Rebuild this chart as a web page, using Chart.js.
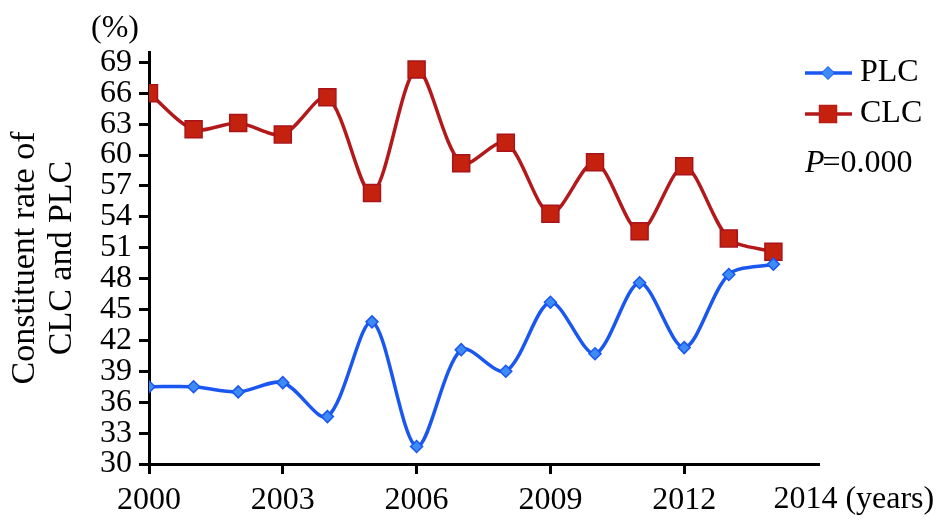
<!DOCTYPE html>
<html>
<head>
<meta charset="utf-8">
<script src="https://cdn.jsdelivr.net/npm/chart.js@4"></script>
<style>
  html, body { margin: 0; padding: 0; background: #fff; }
  #wrap { width: 945px; height: 529px; }
</style>
</head>
<body>
<div id="wrap"><canvas id="myChart" width="945" height="529"></canvas></div>
<script>
// values
var years = [2000, 2001, 2002, 2003, 2004, 2005, 2006, 2007, 2008, 2009, 2010, 2011, 2012, 2013, 2014];
var plc = [37.5, 37.5, 37.0, 37.9, 34.6, 43.8, 31.7, 41.1, 39.0, 45.7, 40.7, 47.6, 41.3, 48.4, 49.4];
var clc = [66.0, 62.5, 63.1, 62.0, 65.6, 56.3, 68.3, 59.2, 61.2, 54.3, 59.3, 52.6, 58.9, 51.9, 50.6];
var yTicks = [30, 33, 36, 39, 42, 45, 48, 51, 54, 57, 60, 63, 66, 69];
var xTicks = [2000, 2003, 2006, 2009, 2012];

var FONT = '"Liberation Serif", "Times New Roman", serif';
var FS = 32;

function pairs(vals) {
    return years.map(function (yr, i) { return { x: yr, y: vals[i] }; });
}

// extra text: (%) unit, last x label, legend, P value
var extras = {
    id: 'extras',
    afterDraw: function (chart) {
        var c = chart.ctx;
        var xs = chart.scales.x;
        c.save();
        c.fillStyle = '#000';
        c.font = FS + 'px ' + FONT;
        c.textBaseline = 'middle';
        c.textAlign = 'center';
        c.fillText('(%)', 115, 29);

        c.textAlign = 'left';
        c.textBaseline = 'top';
        c.fillText('2014 (years)', xs.getPixelForValue(2014), xs.top + 20);

        var items = [
            { text: 'PLC', color: '#1a56f0', fill: '#3d8cf5', style: 'rectRot', r: 6, y: 73 },
            { text: 'CLC', color: '#b3191b', fill: '#c4210f', style: 'rect', r: 12, y: 114 }
        ];
        items.forEach(function (it) {
            c.strokeStyle = it.color;
            c.lineWidth = 3.5;
            c.beginPath();
            c.moveTo(805, it.y);
            c.lineTo(852, it.y);
            c.stroke();
            c.fillStyle = it.fill;
            c.lineWidth = 1.5;
            Chart.helpers.drawPoint(c, { pointStyle: it.style, radius: it.r, borderWidth: 1.5 }, 828, it.y);
            c.fill();
            c.fillStyle = '#000';
            c.textBaseline = 'middle';
            c.fillText(it.text, 860, it.y);
        });

        c.font = 'italic ' + FS + 'px ' + FONT;
        c.textBaseline = 'middle';
        c.fillText('P', 805, 164);
        var w = c.measureText('P').width;
        c.font = FS + 'px ' + FONT;
        c.fillText('=0.000', 805 + w - 2, 164);
        c.restore();
    }
};

document.addEventListener('DOMContentLoaded', function () {
    var ctx = document.getElementById('myChart').getContext('2d');
    var myChart = new Chart(ctx, {
        type: 'line',
        data: {
            datasets: [{
                label: 'PLC',
                data: pairs(plc),
                borderColor: '#1a56f0',
                backgroundColor: '#3d8cf5',
                pointBorderColor: '#1a56f0',
                pointStyle: 'rectRot',
                pointRadius: 6,
                pointBorderWidth: 1.5,
                borderWidth: 3.5,
                tension: 0.3
            }, {
                label: 'CLC',
                data: pairs(clc),
                borderColor: '#b3191b',
                backgroundColor: '#c4210f',
                pointBorderColor: '#a8141a',
                pointStyle: 'rect',
                pointRadius: 12,
                pointBorderWidth: 1.5,
                borderWidth: 3.5,
                tension: 0.3
            }]
        },
        options: {
            responsive: false,
            animation: false,
            layout: { padding: { top: 52, right: 127, left: 6, bottom: 0 } },
            plugins: {
                legend: { display: false },
                tooltip: { enabled: false }
            },
            scales: {
                x: {
                    type: 'linear',
                    min: 2000,
                    max: 2015,
                    afterBuildTicks: function (s) {
                        s.ticks = xTicks.map(function (v) { return { value: v }; });
                    },
                    afterFit: function (s) { s.height = 65; },
                    grid: { drawOnChartArea: false, color: '#000', lineWidth: 3, tickLength: 10 },
                    border: { color: '#000', width: 3 },
                    ticks: {
                        color: '#000',
                        font: { family: FONT, size: FS },
                        padding: 7,
                        maxRotation: 0,
                        autoSkip: false,
                        callback: function (v) { return String(v); }
                    }
                },
                y: {
                    min: 30,
                    max: 70,
                    afterBuildTicks: function (s) {
                        s.ticks = yTicks.map(function (v) { return { value: v }; });
                    },
                    afterFit: function (s) { s.width = 143; },
                    grid: { drawOnChartArea: false, color: '#000', lineWidth: 3, tickLength: 10 },
                    border: { color: '#000', width: 3 },
                    ticks: {
                        color: '#000',
                        font: { family: FONT, size: FS },
                        padding: 7,
                        autoSkip: false
                    },
                    title: {
                        display: true,
                        text: ['Constituent rate of', 'CLC and PLC'],
                        color: '#000',
                        font: { family: FONT, size: 34, lineHeight: 1.1 },
                        padding: { top: 0, bottom: 0 }
                    }
                }
            }
        },
        plugins: [extras]
    });
});
</script>
</body>
</html>
